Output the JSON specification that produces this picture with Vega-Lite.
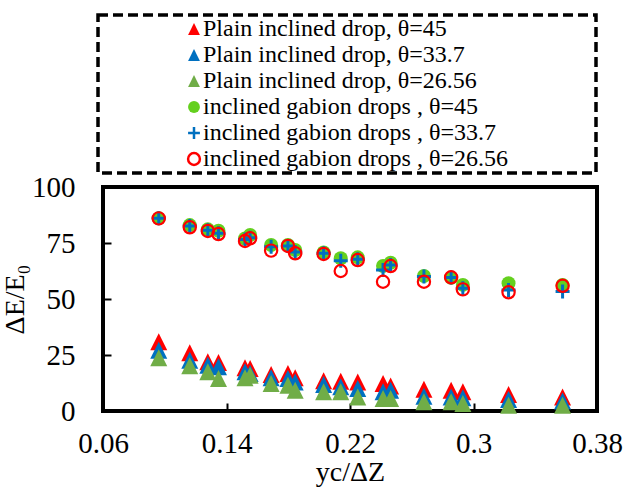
{
  "$schema": "https://vega.github.io/schema/vega-lite/v6.json",
  "width": 494,
  "height": 224,
  "autosize": {"type": "none"},
  "padding": {"left": 103, "top": 187, "right": 28, "bottom": 80},
  "background": "white",
  "config": {
    "font": "Times New Roman, Liberation Serif, serif",
    "view": {"stroke": "black", "strokeWidth": 4},
    "axis": {"grid": false, "domain": false},
    "legend": {
      "strokeDash": [10, 5], "strokeWidth": 3.5, "strokeColor": "black", "fillColor": "white",
      "padding": 2, "symbolOffset": 82, "labelOffset": -3, "rowPadding": 2,
      "labelFontSize": 24, "labelFont": "Times New Roman, Liberation Serif, serif", "labelColor": "black", "labelLimit": 0,
      "symbolSize": 140, "symbolStrokeWidth": 2.5,
      "titleFontSize": 1, "titlePadding": 86, "titleOrient": "right"
    }
  },
  "datasets": {
    "pts": [
      {"x": 0.0961, "y": 30.9, "s": "Plain inclined drop, θ=45"},
      {"x": 0.1162, "y": 26.0, "s": "Plain inclined drop, θ=45"},
      {"x": 0.1279, "y": 22.0, "s": "Plain inclined drop, θ=45"},
      {"x": 0.1348, "y": 21.7, "s": "Plain inclined drop, θ=45"},
      {"x": 0.1520, "y": 19.3, "s": "Plain inclined drop, θ=45"},
      {"x": 0.1553, "y": 19.0, "s": "Plain inclined drop, θ=45"},
      {"x": 0.1689, "y": 16.3, "s": "Plain inclined drop, θ=45"},
      {"x": 0.1798, "y": 16.7, "s": "Plain inclined drop, θ=45"},
      {"x": 0.1845, "y": 14.8, "s": "Plain inclined drop, θ=45"},
      {"x": 0.2029, "y": 13.5, "s": "Plain inclined drop, θ=45"},
      {"x": 0.2140, "y": 13.3, "s": "Plain inclined drop, θ=45"},
      {"x": 0.2250, "y": 13.0, "s": "Plain inclined drop, θ=45"},
      {"x": 0.2414, "y": 12.3, "s": "Plain inclined drop, θ=45"},
      {"x": 0.2463, "y": 11.2, "s": "Plain inclined drop, θ=45"},
      {"x": 0.2679, "y": 9.7, "s": "Plain inclined drop, θ=45"},
      {"x": 0.2855, "y": 9.3, "s": "Plain inclined drop, θ=45"},
      {"x": 0.2931, "y": 8.6, "s": "Plain inclined drop, θ=45"},
      {"x": 0.3227, "y": 7.4, "s": "Plain inclined drop, θ=45"},
      {"x": 0.3577, "y": 6.3, "s": "Plain inclined drop, θ=45"},
      {"x": 0.0961, "y": 27.1, "s": "Plain inclined drop, θ=33.7"},
      {"x": 0.1162, "y": 22.7, "s": "Plain inclined drop, θ=33.7"},
      {"x": 0.1279, "y": 20.4, "s": "Plain inclined drop, θ=33.7"},
      {"x": 0.1348, "y": 19.7, "s": "Plain inclined drop, θ=33.7"},
      {"x": 0.1520, "y": 17.5, "s": "Plain inclined drop, θ=33.7"},
      {"x": 0.1553, "y": 16.7, "s": "Plain inclined drop, θ=33.7"},
      {"x": 0.1689, "y": 14.8, "s": "Plain inclined drop, θ=33.7"},
      {"x": 0.1798, "y": 14.5, "s": "Plain inclined drop, θ=33.7"},
      {"x": 0.1845, "y": 13.0, "s": "Plain inclined drop, θ=33.7"},
      {"x": 0.2029, "y": 11.8, "s": "Plain inclined drop, θ=33.7"},
      {"x": 0.2140, "y": 10.8, "s": "Plain inclined drop, θ=33.7"},
      {"x": 0.2250, "y": 10.0, "s": "Plain inclined drop, θ=33.7"},
      {"x": 0.2414, "y": 8.6, "s": "Plain inclined drop, θ=33.7"},
      {"x": 0.2463, "y": 9.3, "s": "Plain inclined drop, θ=33.7"},
      {"x": 0.2679, "y": 6.6, "s": "Plain inclined drop, θ=33.7"},
      {"x": 0.2855, "y": 6.3, "s": "Plain inclined drop, θ=33.7"},
      {"x": 0.2931, "y": 5.9, "s": "Plain inclined drop, θ=33.7"},
      {"x": 0.3227, "y": 5.1, "s": "Plain inclined drop, θ=33.7"},
      {"x": 0.3577, "y": 4.5, "s": "Plain inclined drop, θ=33.7"},
      {"x": 0.0961, "y": 23.8, "s": "Plain inclined drop, θ=26.56"},
      {"x": 0.1162, "y": 20.2, "s": "Plain inclined drop, θ=26.56"},
      {"x": 0.1279, "y": 17.5, "s": "Plain inclined drop, θ=26.56"},
      {"x": 0.1348, "y": 14.5, "s": "Plain inclined drop, θ=26.56"},
      {"x": 0.1520, "y": 14.8, "s": "Plain inclined drop, θ=26.56"},
      {"x": 0.1553, "y": 16.0, "s": "Plain inclined drop, θ=26.56"},
      {"x": 0.1689, "y": 12.3, "s": "Plain inclined drop, θ=26.56"},
      {"x": 0.1798, "y": 11.5, "s": "Plain inclined drop, θ=26.56"},
      {"x": 0.1845, "y": 9.3, "s": "Plain inclined drop, θ=26.56"},
      {"x": 0.2029, "y": 8.6, "s": "Plain inclined drop, θ=26.56"},
      {"x": 0.2140, "y": 8.6, "s": "Plain inclined drop, θ=26.56"},
      {"x": 0.2250, "y": 6.3, "s": "Plain inclined drop, θ=26.56"},
      {"x": 0.2414, "y": 5.6, "s": "Plain inclined drop, θ=26.56"},
      {"x": 0.2463, "y": 5.6, "s": "Plain inclined drop, θ=26.56"},
      {"x": 0.2679, "y": 4.1, "s": "Plain inclined drop, θ=26.56"},
      {"x": 0.2855, "y": 4.1, "s": "Plain inclined drop, θ=26.56"},
      {"x": 0.2931, "y": 3.3, "s": "Plain inclined drop, θ=26.56"},
      {"x": 0.3227, "y": 2.6, "s": "Plain inclined drop, θ=26.56"},
      {"x": 0.3577, "y": 2.6, "s": "Plain inclined drop, θ=26.56"},
      {"x": 0.0961, "y": 86.0, "s": "inclined gabion drops , θ=45"},
      {"x": 0.1162, "y": 83.0, "s": "inclined gabion drops , θ=45"},
      {"x": 0.1279, "y": 81.1, "s": "inclined gabion drops , θ=45"},
      {"x": 0.1348, "y": 80.5, "s": "inclined gabion drops , θ=45"},
      {"x": 0.1520, "y": 77.0, "s": "inclined gabion drops , θ=45"},
      {"x": 0.1553, "y": 78.6, "s": "inclined gabion drops , θ=45"},
      {"x": 0.1689, "y": 74.1, "s": "inclined gabion drops , θ=45"},
      {"x": 0.1798, "y": 74.1, "s": "inclined gabion drops , θ=45"},
      {"x": 0.1845, "y": 71.9, "s": "inclined gabion drops , θ=45"},
      {"x": 0.2029, "y": 70.8, "s": "inclined gabion drops , θ=45"},
      {"x": 0.2140, "y": 68.2, "s": "inclined gabion drops , θ=45"},
      {"x": 0.2250, "y": 68.6, "s": "inclined gabion drops , θ=45"},
      {"x": 0.2414, "y": 64.7, "s": "inclined gabion drops , θ=45"},
      {"x": 0.2463, "y": 66.2, "s": "inclined gabion drops , θ=45"},
      {"x": 0.2679, "y": 60.3, "s": "inclined gabion drops , θ=45"},
      {"x": 0.2855, "y": 59.5, "s": "inclined gabion drops , θ=45"},
      {"x": 0.2931, "y": 56.3, "s": "inclined gabion drops , θ=45"},
      {"x": 0.3227, "y": 57.0, "s": "inclined gabion drops , θ=45"},
      {"x": 0.3577, "y": 56.3, "s": "inclined gabion drops , θ=45"},
      {"x": 0.0961, "y": 86.0, "s": "inclined gabion drops , θ=33.7"},
      {"x": 0.1162, "y": 82.6, "s": "inclined gabion drops , θ=33.7"},
      {"x": 0.1279, "y": 80.7, "s": "inclined gabion drops , θ=33.7"},
      {"x": 0.1348, "y": 79.3, "s": "inclined gabion drops , θ=33.7"},
      {"x": 0.1520, "y": 76.6, "s": "inclined gabion drops , θ=33.7"},
      {"x": 0.1553, "y": 77.3, "s": "inclined gabion drops , θ=33.7"},
      {"x": 0.1689, "y": 73.3, "s": "inclined gabion drops , θ=33.7"},
      {"x": 0.1798, "y": 73.7, "s": "inclined gabion drops , θ=33.7"},
      {"x": 0.1845, "y": 71.0, "s": "inclined gabion drops , θ=33.7"},
      {"x": 0.2029, "y": 70.4, "s": "inclined gabion drops , θ=33.7"},
      {"x": 0.2140, "y": 67.1, "s": "inclined gabion drops , θ=33.7"},
      {"x": 0.2250, "y": 67.7, "s": "inclined gabion drops , θ=33.7"},
      {"x": 0.2414, "y": 63.0, "s": "inclined gabion drops , θ=33.7"},
      {"x": 0.2463, "y": 65.2, "s": "inclined gabion drops , θ=33.7"},
      {"x": 0.2679, "y": 60.0, "s": "inclined gabion drops , θ=33.7"},
      {"x": 0.2855, "y": 59.6, "s": "inclined gabion drops , θ=33.7"},
      {"x": 0.2931, "y": 54.8, "s": "inclined gabion drops , θ=33.7"},
      {"x": 0.3227, "y": 54.0, "s": "inclined gabion drops , θ=33.7"},
      {"x": 0.3577, "y": 53.3, "s": "inclined gabion drops , θ=33.7"},
      {"x": 0.0961, "y": 86.0, "s": "inclined gabion drops , θ=26.56"},
      {"x": 0.1162, "y": 82.0, "s": "inclined gabion drops , θ=26.56"},
      {"x": 0.1279, "y": 80.4, "s": "inclined gabion drops , θ=26.56"},
      {"x": 0.1348, "y": 79.0, "s": "inclined gabion drops , θ=26.56"},
      {"x": 0.1520, "y": 75.9, "s": "inclined gabion drops , θ=26.56"},
      {"x": 0.1553, "y": 77.1, "s": "inclined gabion drops , θ=26.56"},
      {"x": 0.1689, "y": 71.6, "s": "inclined gabion drops , θ=26.56"},
      {"x": 0.1798, "y": 73.7, "s": "inclined gabion drops , θ=26.56"},
      {"x": 0.1845, "y": 70.4, "s": "inclined gabion drops , θ=26.56"},
      {"x": 0.2029, "y": 70.1, "s": "inclined gabion drops , θ=26.56"},
      {"x": 0.2140, "y": 62.5, "s": "inclined gabion drops , θ=26.56"},
      {"x": 0.2250, "y": 67.4, "s": "inclined gabion drops , θ=26.56"},
      {"x": 0.2414, "y": 57.7, "s": "inclined gabion drops , θ=26.56"},
      {"x": 0.2463, "y": 64.7, "s": "inclined gabion drops , θ=26.56"},
      {"x": 0.2679, "y": 57.7, "s": "inclined gabion drops , θ=26.56"},
      {"x": 0.2855, "y": 59.7, "s": "inclined gabion drops , θ=26.56"},
      {"x": 0.2931, "y": 54.3, "s": "inclined gabion drops , θ=26.56"},
      {"x": 0.3227, "y": 53.0, "s": "inclined gabion drops , θ=26.56"},
      {"x": 0.3577, "y": 55.9, "s": "inclined gabion drops , θ=26.56"}
    ]
  },
  "data": {"name": "pts"},
  "encoding": {
    "x": {
      "field": "x", "type": "quantitative",
      "scale": {"domain": [0.06, 0.38], "nice": false, "zero": false},
      "axis": {
        "values": [0.06, 0.14, 0.22, 0.3, 0.38], "format": "~g", "title": "yc/ΔZ", "labelFlush": false,
        "tickSize": -8, "tickColor": "black", "tickWidth": 2,
        "labelFont": "Times New Roman, Liberation Serif, serif", "labelFontSize": 29, "labelColor": "black", "labelPadding": 26,
        "titleFont": "Times New Roman, Liberation Serif, serif", "titleFontSize": 28, "titleFontWeight": "normal", "titleColor": "black", "titlePadding": 0
      }
    },
    "y": {
      "field": "y", "type": "quantitative",
      "scale": {"domain": [0, 100], "nice": false},
      "axis": {
        "values": [0, 25, 50, 75, 100], "title": "ΔE/E₀", "labelFlush": false,
        "tickSize": -8, "tickColor": "black", "tickWidth": 2,
        "labelFont": "Times New Roman, Liberation Serif, serif", "labelFontSize": 29, "labelColor": "black", "labelPadding": 36,
        "titleFont": "Times New Roman, Liberation Serif, serif", "titleFontSize": 28, "titleFontWeight": "normal", "titleColor": "black", "titlePadding": 2
      }
    },
    "shape": {
      "field": "s", "type": "nominal",
      "scale": {
        "domain": ["Plain inclined drop, θ=45", "Plain inclined drop, θ=33.7", "Plain inclined drop, θ=26.56", "inclined gabion drops , θ=45", "inclined gabion drops , θ=33.7", "inclined gabion drops , θ=26.56"],
        "range": ["M0,-1L-1,1L1,1Z", "M0,-1L-1,1L1,1Z", "M0,-1L-1,1L1,1Z", "circle", "M-1,0H1M0,-1V1", "circle"]
      },
      "legend": {"orient": "none", "legendX": -5, "legendY": -172, "title": " "}
    },
    "fill": {
      "field": "s", "type": "nominal",
      "scale": {
        "domain": ["Plain inclined drop, θ=45", "Plain inclined drop, θ=33.7", "Plain inclined drop, θ=26.56", "inclined gabion drops , θ=45", "inclined gabion drops , θ=33.7", "inclined gabion drops , θ=26.56"],
        "range": ["#FF0000", "#0070C0", "#70AD47", "#64D01E", "transparent", "transparent"]
      },
      "legend": {"orient": "none", "legendX": -5, "legendY": -172, "title": " "}
    },
    "stroke": {
      "field": "s", "type": "nominal",
      "scale": {
        "domain": ["Plain inclined drop, θ=45", "Plain inclined drop, θ=33.7", "Plain inclined drop, θ=26.56", "inclined gabion drops , θ=45", "inclined gabion drops , θ=33.7", "inclined gabion drops , θ=26.56"],
        "range": ["transparent", "transparent", "transparent", "transparent", "#0070C0", "#FF0000"]
      },
      "legend": {"orient": "none", "legendX": -5, "legendY": -172, "title": " "}
    }
  },
  "layer": [
    {"transform": [{"filter": "indexof(datum.s, 'Plain') == 0"}], "mark": {"type": "point", "opacity": 1, "size": 289, "strokeWidth": 0}},
    {"transform": [{"filter": "datum.s == 'inclined gabion drops , θ=45'"}], "mark": {"type": "point", "opacity": 1, "size": 196, "strokeWidth": 0}},
    {"transform": [{"filter": "datum.s == 'inclined gabion drops , θ=33.7'"}], "mark": {"type": "point", "opacity": 1, "size": 196, "strokeWidth": 3}},
    {"transform": [{"filter": "datum.s == 'inclined gabion drops , θ=26.56'"}], "mark": {"type": "point", "opacity": 1, "size": 150, "strokeWidth": 2.2}}
  ]
}
